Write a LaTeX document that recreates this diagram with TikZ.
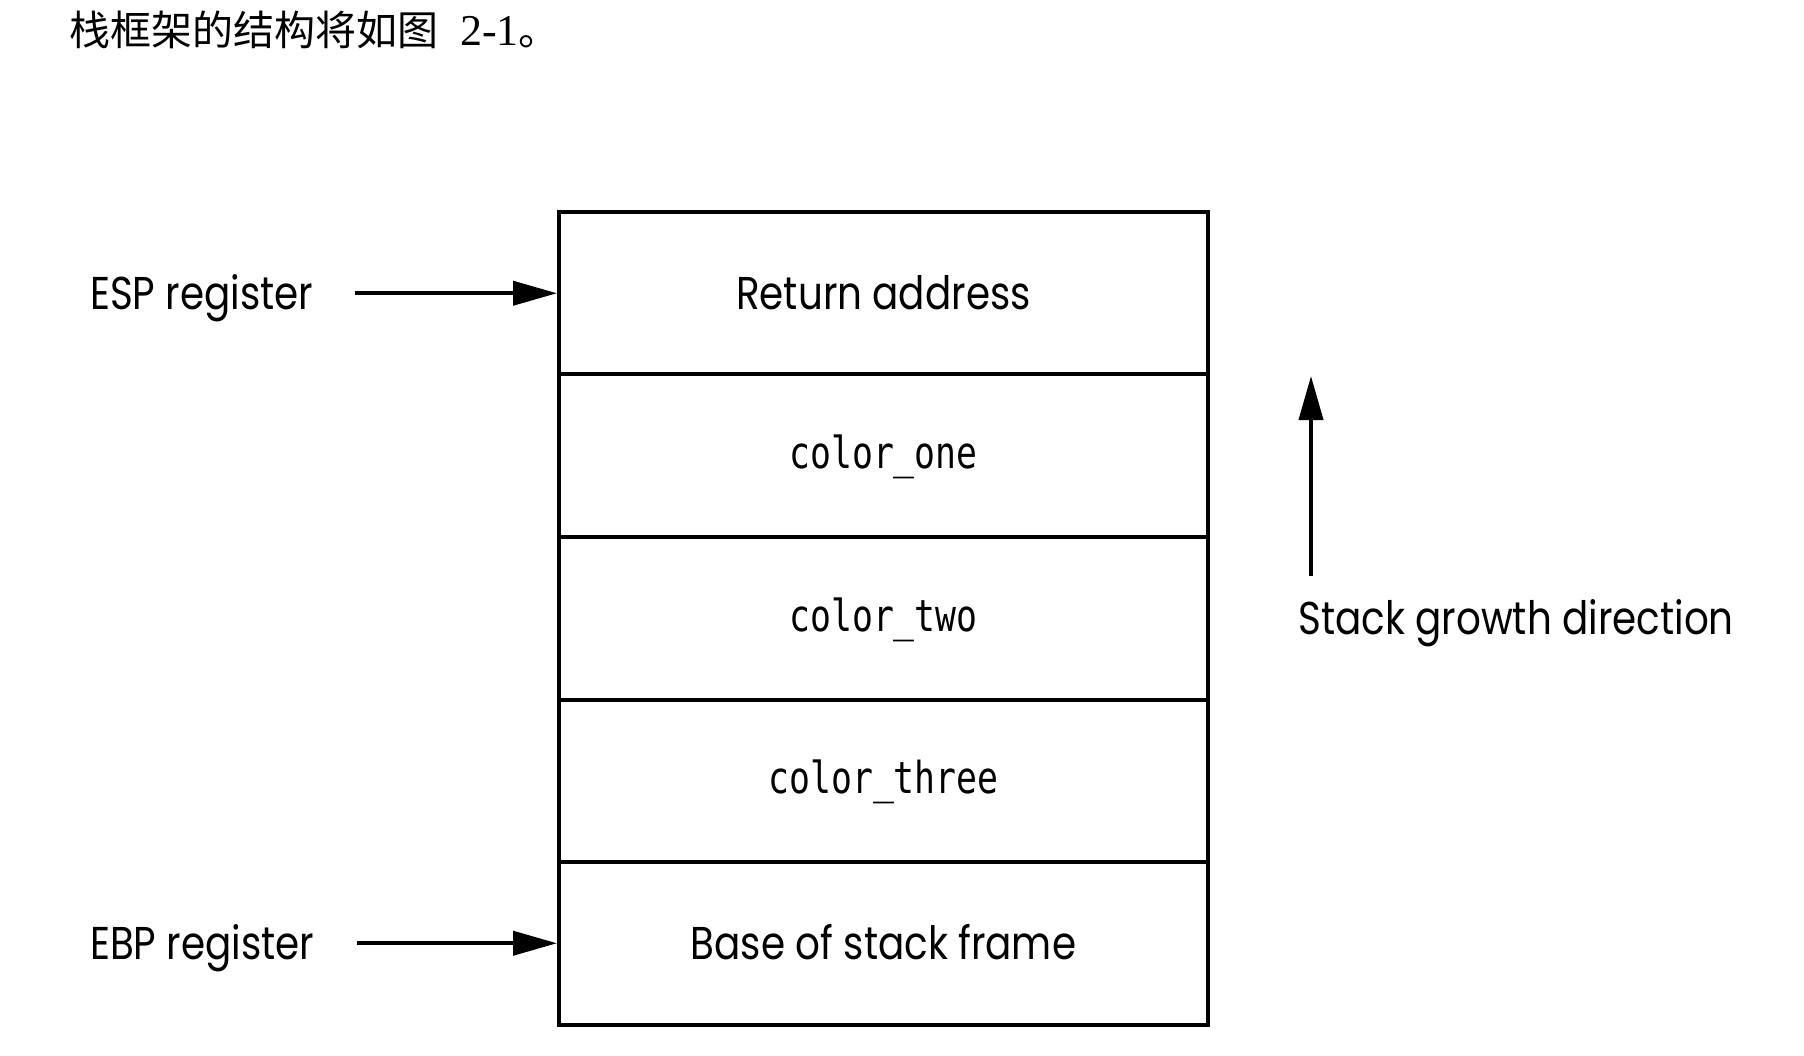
\documentclass[tikz,border=0pt]{standalone}
\usepackage{fontspec}
\usepackage{tikz}
\usetikzlibrary{arrows.meta}
\usetikzlibrary{calc}
\setmainfont{Liberation Serif}
\newfontfamily\cjkfont{Noto Sans CJK SC}
\newfontfamily\labelfont[FakeStretch=0.845]{Poppins}
\newfontfamily\codefont[FakeStretch=0.79]{DejaVu Sans Mono}
\begin{document}
\begin{tikzpicture}[x=1pt, y=-1pt,
        cell_style/.style={draw=black, line width=4pt, minimum width=649pt, minimum height=162.5pt, inner sep=0pt, text depth=0pt},
        text_cell_style/.style={cell_style, text height=32pt, font=\labelfont\fontsize{46}{50}\selectfont},
        code_cell_style/.style={cell_style, text height=26pt, font=\codefont\fontsize{44}{48}\selectfont},
        label_style/.style={anchor=west, inner sep=0pt, text height=32pt, text depth=0pt, font=\labelfont\fontsize{46}{50}\selectfont},
        arrow_style/.style={draw=black, line width=4pt, -{Triangle[length=44pt, width=24pt]}}]

        \path [fill=white] (0,0) rectangle (1804,1056);
        \useasboundingbox (0,0) rectangle (1804,1056);

        \node [anchor=base west, inner sep=0pt, font=\fontsize{41}{45}\selectfont](title) at (69,46) {{\cjkfont 栈框架的结构将如图}\hspace{22pt}{\fontsize{44}{48}\selectfont 2-1}{\cjkfont 。}};

        \node [text_cell_style](n1) at (883.5,293.25) {Return address};

        \node [code_cell_style](n2) at (883.5,455.75) {color\_one};

        \node [code_cell_style](n3) at (883.5,618.25) {color\_two};

        \node [code_cell_style](n4) at (883.5,780.75) {color\_three};

        \node [text_cell_style](n5) at (883.5,943.25) {Base of stack frame};

        \node [label_style](esp) at (90,293.25) {ESP register};

        \node [label_style](ebp) at (90,943.25) {EBP register};

        \node [label_style](growth) at (1298,618.25) {Stack growth direction};

        \coordinate (esp_tail) at (355,293.25);
        \coordinate (ebp_tail) at (357,943.25);
        \coordinate (growth_tail) at (1311,576);
        \coordinate (growth_tip) at (1311,376);

        \draw [arrow_style] (esp_tail) -- (n1);

        \draw [arrow_style] (ebp_tail) -- (n5);

        \draw [arrow_style] (growth_tail) -- (growth_tip);

        \end{tikzpicture}
\end{document}
